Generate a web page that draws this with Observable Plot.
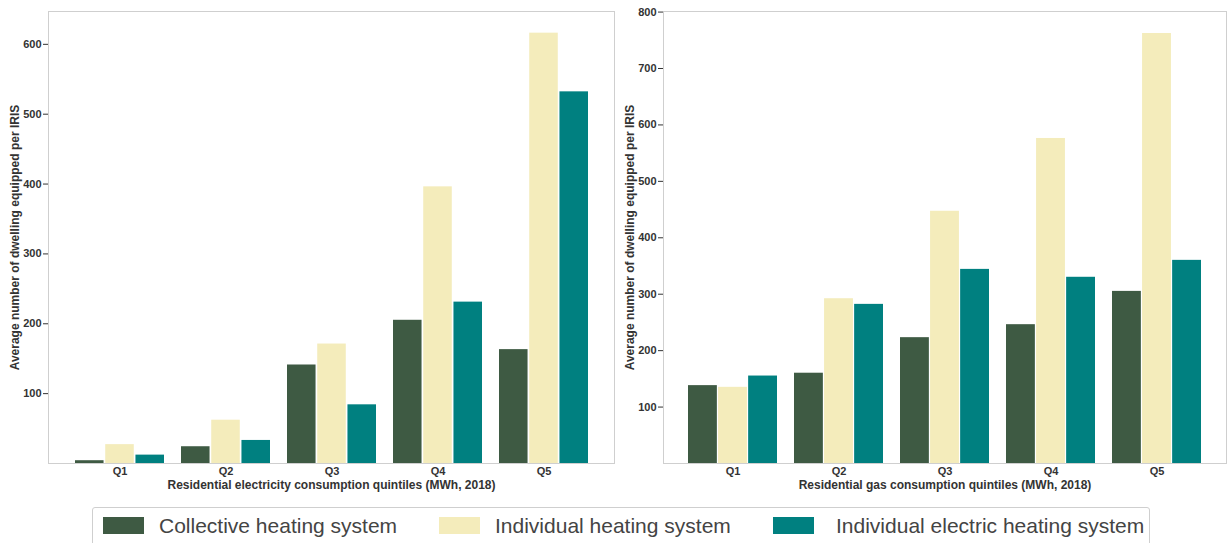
<!DOCTYPE html>
<html>
<head>
<meta charset="utf-8">
<script src="https://cdn.jsdelivr.net/npm/d3@7"></script>
<script src="https://cdn.jsdelivr.net/npm/@observablehq/plot@0.6"></script>
<style>
  body { margin: 0; background: #fff; font-family: "Liberation Sans", Arial, sans-serif; }
  #wrap { position: relative; width: 1228px; height: 543px; overflow: hidden; }
  #charts { position: absolute; left: 0; top: 0; display: flex; }
  #charts svg { display: block; }
  #legend { position: absolute; left: 92px; top: 507px; width: 1058px; height: 46px;
            border: 1px solid #cfcfcf; border-radius: 3px; box-sizing: border-box; }
  .item { position: absolute; top: 8px; height: 20px; }
  .sw { position: absolute; left: 0; top: 1px; width: 41px; height: 17px; }
  .lab { position: absolute; top: -2px; white-space: nowrap; font-size: 21px; color: #444; }
</style>
</head>
<body>
<div id="wrap">
  <div id="charts"></div>
  <div id="legend"></div>
</div>
<script>
// ---- data ----
const quintiles = ["Q1", "Q2", "Q3", "Q4", "Q5"];
const series = ["Collective heating system", "Individual heating system", "Individual electric heating system"];
const colors = ["#3e5a43", "#f4ecbb", "#008080"];

// Panel 1: electricity consumption quintiles
const elecCollective = [4, 24, 141, 205, 163];
const elecIndividual = [27, 62, 171, 396, 616];
const elecElectric   = [12, 33, 84, 231, 532];

// Panel 2: gas consumption quintiles
const gasCollective = [138, 160, 223, 246, 305];
const gasIndividual = [135, 292, 447, 576, 762];
const gasElectric   = [155, 282, 344, 330, 360];

const elecTicks = [100, 200, 300, 400, 500, 600];
const gasTicks  = [100, 200, 300, 400, 500, 600, 700, 800];

const yTitle = "Average number of dwelling equipped per IRIS";
const elecTitle = "Residential electricity consumption quintiles (MWh, 2018)";
const gasTitle = "Residential gas consumption quintiles (MWh, 2018)";

// ---- drawing ----
const font = '"Liberation Sans", Arial, sans-serif';
const pInner = 0.164, pOuter = 0.235, gap = 1.5;

function panel(values, yMax, ticks, xTitle, width, marginRight) {
  const marginLeft = 48;
  const frameW = width - marginLeft - marginRight;
  const step = frameW / (quintiles.length - pInner + 2 * pOuter);
  const bw = step * (1 - pInner);
  const w = (bw - 2 * gap) / 3;
  const insets = [[0, bw - w], [w + gap, w + gap], [bw - w, 0]];
  const rows = quintiles.flatMap((q, i) => series.map((s, j) => ({quintile: q, series: s, value: values[j][i]})));
  return Plot.plot({
    width, height: 500,
    marginLeft, marginRight, marginTop: 11, marginBottom: 37,
    style: {fontFamily: font, fontSize: "11px", fontWeight: "bold", color: "#333", background: "#fff"},
    x: {domain: quintiles, paddingInner: pInner, paddingOuter: pOuter, tickSize: 0, tickPadding: 4, label: null},
    y: {domain: [0, yMax], ticks, tickSize: 5, tickPadding: 2, label: null},
    color: {domain: series, range: colors},
    marks: [
      ...series.map((s, j) => Plot.barY(rows.filter(d => d.series === s), {
        x: "quintile", y: "value", fill: "series",
        insetLeft: insets[j][0], insetRight: insets[j][1]
      })),
      Plot.frame({stroke: "#cfcfcf"}),
      Plot.text([yTitle], {text: d => d, frameAnchor: "left", textAnchor: "middle", lineAnchor: "middle",
        rotate: -90, dx: -33, fontSize: 12, fontWeight: "bold", fill: "#333"}),
      Plot.text([xTitle], {text: d => d, frameAnchor: "bottom", textAnchor: "middle", lineAnchor: "middle",
        dy: 22, fontSize: 12, fontWeight: "bold", fill: "#333"})
    ]
  });
}

const charts = document.getElementById("charts");
charts.append(panel([elecCollective, elecIndividual, elecElectric], 647, elecTicks, elecTitle, 615, 1));
charts.append(panel([gasCollective, gasIndividual, gasElectric], 801, gasTicks, gasTitle, 613, 2));

// legend
const legend = document.getElementById("legend");
const itemX = [10, 346, 680];
series.forEach((s, j) => {
  const it = document.createElement("div");
  it.className = "item";
  it.style.left = itemX[j] + "px";
  const sw = document.createElement("div");
  sw.className = "sw";
  sw.style.background = colors[j];
  const lab = document.createElement("div");
  lab.className = "lab";
  lab.style.left = (j === 2 ? 63 : 56) + "px";
  lab.textContent = s;
  it.append(sw, lab);
  legend.append(it);
});
</script>
</body>
</html>
